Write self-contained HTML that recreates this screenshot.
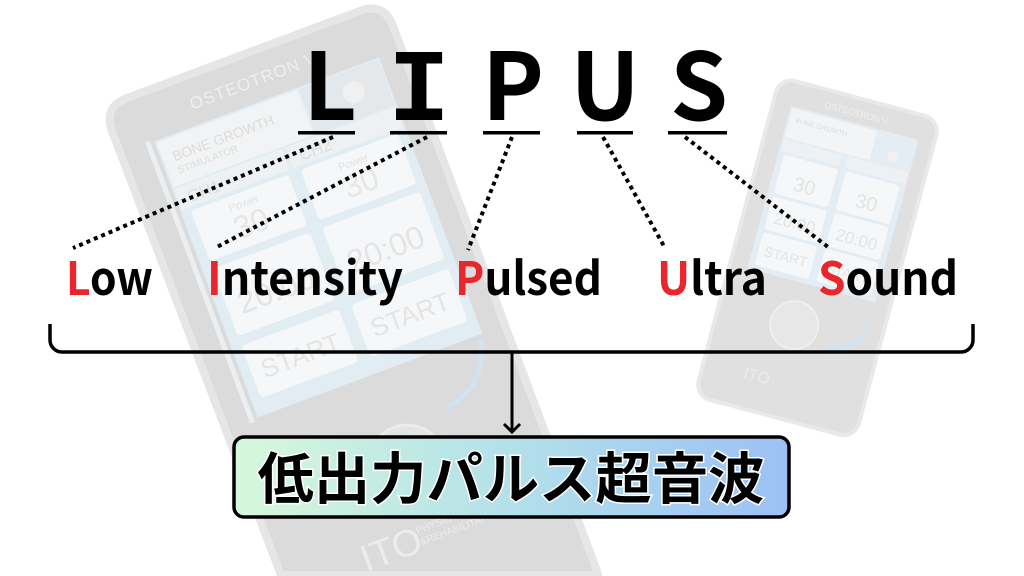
<!DOCTYPE html>
<html><head><meta charset="utf-8">
<style>
html,body{margin:0;padding:0;background:#fff;width:1024px;height:576px;overflow:hidden;}
svg{display:block;}
.dv{font-family:"Liberation Sans",sans-serif;}
</style></head><body>
<svg width="1024" height="576" viewBox="0 0 1024 576" xmlns="http://www.w3.org/2000/svg" style="overflow:hidden">
<defs>
<linearGradient id="g" x1="0" x2="1" y1="0" y2="0">
<stop offset="0" stop-color="#d6f8dc"/>
<stop offset="0.5" stop-color="#b3e0ea"/>
<stop offset="1" stop-color="#9cc0f4"/>
</linearGradient>
</defs>
<rect width="1024" height="576" fill="#fff"/>

<!-- big background device body (screen coords, ends at frame bottom) -->
<path d="M112.1 131.4 Q103 107 127.4 97.9 L359.6 11 Q384 1.9 393.1 26.3 L596 568 L598 575 L281 575 L278.3 568 Z" fill="#dbdbdc" stroke="#e6e6e7" stroke-width="8" stroke-linejoin="round"/>
<!-- big device details -->
<g transform="translate(103,107) rotate(-20.5)" class="dv">
 <text x="150" y="34" font-size="17" fill="#efefef" text-anchor="middle" letter-spacing="1">OSTEOTRON V</text>
 <rect x="27" y="48" width="5" height="300" fill="#eceff1"/>
 <rect x="36" y="50" width="240" height="295" fill="#e2ecf3"/>
 <rect x="38" y="52" width="150" height="48" fill="#f2f3f4"/>
 <text x="48" y="76" font-size="14" fill="#dcdcdc">BONE GROWTH</text>
 <text x="48" y="89" font-size="10" fill="#dcdcdc">STIMULATOR</text>
 <rect x="190" y="52" width="84" height="48" fill="#e4e8eb"/>
 <circle cx="240" cy="74" r="11" fill="#f0f0f0"/>
 <rect x="38" y="102" width="115" height="22" fill="#eef1f3"/>
 <rect x="157" y="102" width="117" height="22" fill="#eef1f3"/>
 <text x="48" y="120" font-size="17" fill="#dddddd">CH1</text>
 <text x="167" y="120" font-size="17" fill="#dddddd">CH2</text>
 <rect x="46" y="128" width="104" height="54" rx="4" fill="#f5f7f9"/>
 <rect x="163" y="128" width="104" height="54" rx="4" fill="#f5f7f9"/>
 <text x="98" y="143" font-size="11" fill="#e2e2e2" text-anchor="middle">Power</text>
 <text x="98" y="172" font-size="32" fill="#e6e6e6" text-anchor="middle">30</text>
 <text x="215" y="143" font-size="11" fill="#e2e2e2" text-anchor="middle">Power</text>
 <text x="215" y="172" font-size="32" fill="#e6e6e6" text-anchor="middle">30</text>
 <rect x="46" y="190" width="104" height="72" rx="4" fill="#f5f7f9"/>
 <rect x="163" y="190" width="104" height="72" rx="4" fill="#f5f7f9"/>
 <text x="98" y="243" font-size="32" fill="#e4e4e4" text-anchor="middle">20:00</text>
 <text x="215" y="243" font-size="32" fill="#e4e4e4" text-anchor="middle">20:00</text>
 <rect x="46" y="272" width="104" height="56" rx="4" fill="#f5f7f9"/>
 <rect x="163" y="272" width="104" height="56" rx="4" fill="#f5f7f9"/>
 <text x="98" y="311" font-size="26" fill="#e4e4e4" text-anchor="middle">START</text>
 <text x="215" y="311" font-size="26" fill="#e4e4e4" text-anchor="middle">START</text>
 <path d="M272 350 Q262 395 218 402" fill="none" stroke="#cfe3f1" stroke-width="5"/>
 <circle cx="160" cy="440" r="38" fill="#e4e4e5" stroke="#ececed" stroke-width="3"/>
 <text x="115" y="528" font-size="38" fill="#ececec" text-anchor="middle">ITO</text>
 <text x="145" y="510" font-size="10" fill="#ececec">PHYSIOTHERAPY</text>
 <text x="145" y="522" font-size="10" fill="#ececec">&amp;REHABILITATION</text>
</g>

<!-- small background device -->
<g transform="translate(780,77) rotate(15)" class="dv">
 <rect x="0" y="0" width="166" height="330" rx="16" fill="#e0e0e1" stroke="#e9e9ea" stroke-width="4"/>
 <text x="83" y="18" font-size="9" fill="#f0f0f0" text-anchor="middle">OSTEOTRON V</text>
 <rect x="18" y="25" width="132" height="168" fill="#e4edf4"/>
 <rect x="20" y="27" width="88" height="30" fill="#f3f4f5"/>
 <text x="26" y="40" font-size="7" fill="#dcdcdc">BONE GROWTH</text>
 <circle cx="130" cy="48" r="6" fill="#f0f0f0"/>
 <rect x="20" y="59" width="60" height="12" fill="#eef1f3"/>
 <rect x="86" y="59" width="62" height="12" fill="#eef1f3"/>
 <rect x="24" y="74" width="56" height="40" rx="3" fill="#f5f7f9"/>
 <rect x="88" y="74" width="56" height="40" rx="3" fill="#f5f7f9"/>
 <text x="52" y="106" font-size="20" fill="#e4e4e4" text-anchor="middle">30</text>
 <text x="116" y="106" font-size="20" fill="#e4e4e4" text-anchor="middle">30</text>
 <rect x="24" y="117" width="56" height="34" rx="3" fill="#f5f7f9"/>
 <rect x="88" y="117" width="56" height="34" rx="3" fill="#f5f7f9"/>
 <text x="52" y="143" font-size="17" fill="#e4e4e4" text-anchor="middle">20:00</text>
 <text x="116" y="143" font-size="17" fill="#e4e4e4" text-anchor="middle">20:00</text>
 <rect x="24" y="154" width="56" height="34" rx="3" fill="#f5f7f9"/>
 <rect x="88" y="154" width="56" height="34" rx="3" fill="#f5f7f9"/>
 <text x="52" y="177" font-size="14" fill="#e4e4e4" text-anchor="middle">START</text>
 <text x="116" y="177" font-size="14" fill="#e4e4e4" text-anchor="middle">START</text>
 <path d="M150 215 Q145 245 115 250" fill="none" stroke="#cfe3f1" stroke-width="4"/>
 <circle cx="78" cy="236" r="24" fill="#e7e7e8" stroke="#efefef" stroke-width="2"/>
 <text x="55" y="300" font-size="16" fill="#ececec" text-anchor="middle">ITO</text>
</g>

<!-- LIPUS big letters -->
<g font-family="'Noto Sans CJK JP','Liberation Sans',sans-serif" font-weight="700" font-size="93" fill="#000" text-anchor="middle">
 <text x="330" y="120">L</text>
 <text x="419" y="120" font-family="'Liberation Mono',monospace" font-size="103">I</text>
 <text x="513" y="120">P</text>
 <text x="605" y="120">U</text>
 <text x="699" y="120">S</text>
</g>
<g fill="#000">
 <rect x="298" y="131" width="57" height="3.5"/>
 <rect x="390" y="131" width="57" height="3.5"/>
 <rect x="483" y="131" width="57" height="3.5"/>
 <rect x="577" y="131" width="56" height="3.5"/>
 <rect x="668" y="131" width="59" height="3.5"/>
</g>

<!-- dotted connectors -->
<g stroke="#000" stroke-width="4" stroke-dasharray="4 4" fill="none">
 <line x1="333" y1="137" x2="73" y2="248"/>
 <line x1="427" y1="137" x2="215" y2="248"/>
 <line x1="512" y1="137" x2="468" y2="250"/>
 <line x1="603" y1="137" x2="665" y2="248"/>
 <line x1="685" y1="137" x2="828" y2="247"/>
</g>

<!-- words -->
<g font-family="'Noto Sans CJK JP','Liberation Sans',sans-serif" font-weight="700" font-size="46" fill="#000">
 <text x="66" y="295" textLength="87" lengthAdjust="spacingAndGlyphs"><tspan fill="#e8262b">L</tspan>ow</text>
 <text x="207" y="295" textLength="196" lengthAdjust="spacingAndGlyphs"><tspan fill="#e8262b">I</tspan>ntensity</text>
 <text x="455" y="295" textLength="147" lengthAdjust="spacingAndGlyphs"><tspan fill="#e8262b">P</tspan>ulsed</text>
 <text x="657" y="295" textLength="110" lengthAdjust="spacingAndGlyphs"><tspan fill="#e8262b">U</tspan>ltra</text>
 <text x="818" y="295" textLength="140" lengthAdjust="spacingAndGlyphs"><tspan fill="#e8262b">S</tspan>ound</text>
</g>

<!-- bracket -->
<path d="M50 324 V340 A12 12 0 0 0 62 352 H961 A12 12 0 0 0 973 340 V324" fill="none" stroke="#000" stroke-width="3.5"/>

<!-- arrow -->
<line x1="512" y1="352" x2="512" y2="432" stroke="#000" stroke-width="3"/>
<path d="M504 424 L512 432 L520 424" fill="none" stroke="#000" stroke-width="3"/>

<!-- result box -->
<rect x="234" y="437" width="555" height="80" rx="10" fill="url(#g)" stroke="#000" stroke-width="3.5"/>
<text x="511" y="499" text-anchor="middle" font-family="'Liberation Sans','Noto Sans CJK JP',sans-serif" font-weight="700" font-size="56" fill="#000" stroke="#fff" stroke-width="3" paint-order="stroke" textLength="507" lengthAdjust="spacingAndGlyphs">低出力パルス超音波</text>
</svg>
</body></html>
